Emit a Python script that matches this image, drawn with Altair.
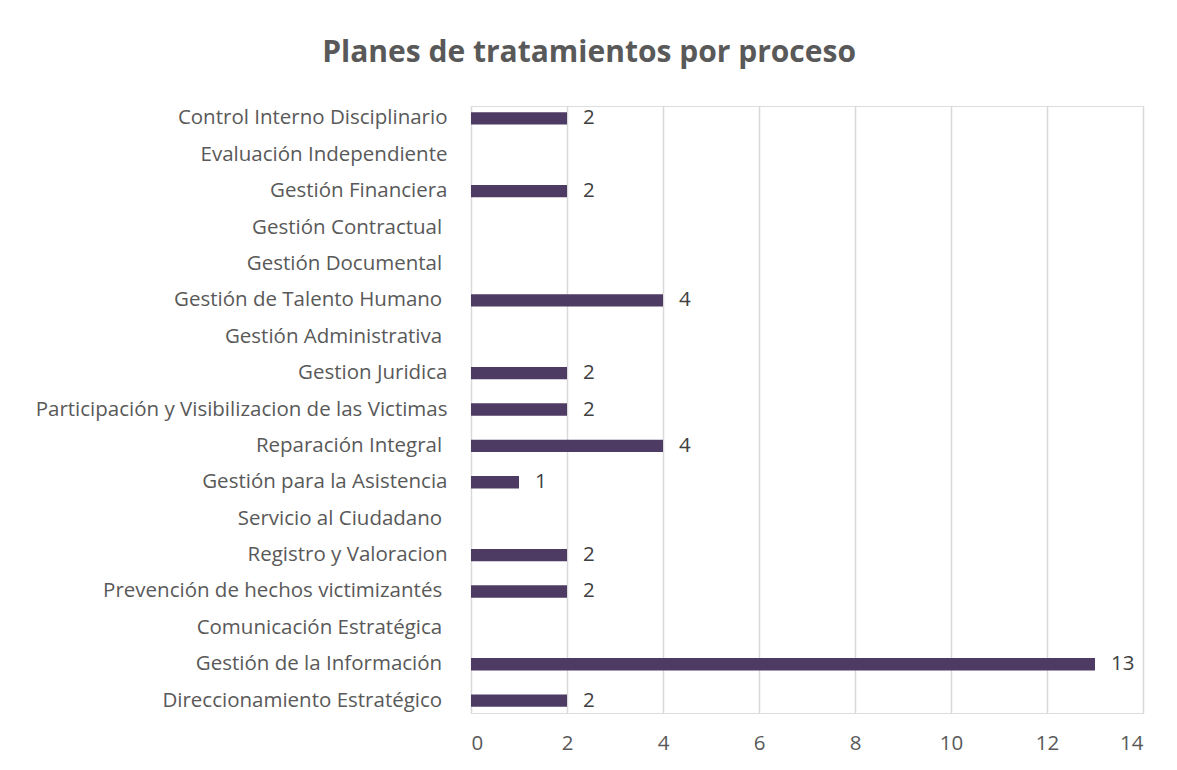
import altair as alt
import pandas as pd

SP = "\u00a0\u200b"
procesos = [
    "Control Interno Disciplinario",
    "Evaluación Independiente",
    "Gestión Financiera",
    "Gestión Contractual" + SP,
    "Gestión Documental" + SP,
    "Gestión de Talento Humano" + SP,
    "Gestión Administrativa" + SP,
    "Gestion Juridica",
    "Participación y Visibilizacion de las Victimas",
    "Reparación Integral" + SP,
    "Gestión para la Asistencia",
    "Servicio al Ciudadano" + SP,
    "Registro y Valoracion",
    "Prevención de hechos victimizantés" + SP,
    "Comunicación Estratégica" + SP,
    "Gestión de la Información" + SP,
    "Direccionamiento Estratégico" + SP,
]
planes = [2, None, 2, None, None, 4, None, 2, 2, 4, 1, None, 2, 2, None, 13, 2]
x_ticks = [0, 2, 4, 6, 8, 10, 12, 14]

df = pd.DataFrame({"proceso": procesos, "planes": planes})

FONT = "Open Sans"
TXT = "#595959"
BAR = "#4E3B63"
FS = 20.5

y_enc = alt.Y(
    "proceso:N",
    sort=procesos,
    title=None,
    scale=alt.Scale(paddingInner=0.66, paddingOuter=0.17),
    axis=alt.Axis(
        domain=False, ticks=False, labelFont=FONT, labelFontSize=FS,
        labelColor=TXT, labelPadding=24, labelLimit=600, grid=False,
    ),
)
x_enc = alt.X(
    "planes:Q",
    title=None,
    scale=alt.Scale(domain=[0, 14], nice=False),
    axis=alt.Axis(
        values=x_ticks, domain=False, ticks=False, labelFont=FONT,
        labelFontSize=FS, labelColor=TXT, labelPadding=20,
        grid=True, gridColor="#D9D9D9", gridWidth=1.5,
    ),
)

bars = alt.Chart(df).mark_bar(color=BAR).encode(y=y_enc, x=x_enc)

labels = (
    alt.Chart(df)
    .transform_filter("datum.planes > 0")
    .mark_text(align="left", baseline="middle", dx=16, font=FONT, fontSize=FS, color="#404040")
    .encode(y=alt.Y("proceso:N", sort=procesos), x="planes:Q", text="planes:Q")
)

chart = (
    alt.layer(bars, labels)
    .properties(
        width=672,
        height=607,
        title=alt.TitleParams(
            "Planes de tratamientos por proceso",
            font=FONT, fontSize=30, fontWeight="bold", color=TXT,
            anchor="middle", frame="bounds", offset=38,
        ),
        padding={"left": 27, "top": 30, "right": 25, "bottom": 5},
    )
    .configure_view(stroke=None)
    .configure(background="white")
)

chart.save("out.html", embed_options={"renderer": "svg", "actions": False})
